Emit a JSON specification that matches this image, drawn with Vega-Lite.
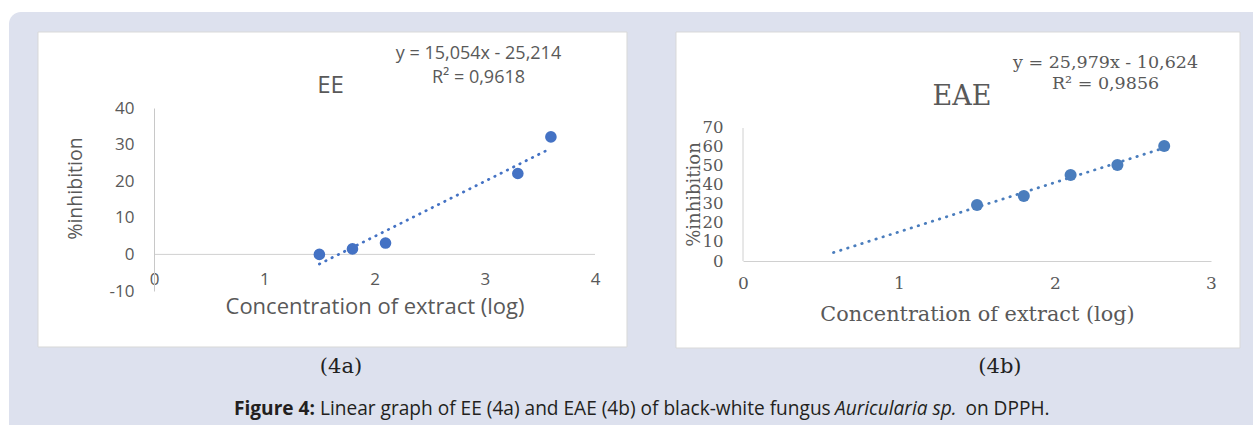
{
  "$schema": "https://vega.github.io/schema/vega-lite/v6.json",
  "background": "white",
  "padding": {"left": 8, "top": 11, "right": 0, "bottom": 0},
  "bounds": "flush",
  "spacing": 148,
  "config": {
    "view": {"stroke": null},
    "axis": {"grid": false, "labelFlush": false, "labelOverlap": false, "ticks": false, "tickSize": 0, "titleFontWeight": "normal", "labelColor": "#595959", "titleColor": "#595959"}
  },
  "datasets": {
    "ee": [{"x": 1.5, "y": 0}, {"x": 1.8, "y": 1.5}, {"x": 2.1, "y": 3.1}, {"x": 3.3, "y": 22.1}, {"x": 3.6, "y": 32.1}],
    "ee_trend": [{"x": 1.5, "y": -2.633}, {"x": 3.6, "y": 28.98}],
    "eae": [{"x": 1.5, "y": 29.5}, {"x": 1.8, "y": 34.2}, {"x": 2.1, "y": 45.3}, {"x": 2.4, "y": 50.5}, {"x": 2.7, "y": 60.5}],
    "eae_trend": [{"x": 0.58, "y": 4.44}, {"x": 2.7, "y": 59.52}]
  },
  "hconcat": [
    {
      "width": 441,
      "height": 183,
      "layer": [
        {
          "data": {"values": [{}]},
          "mark": {"type": "rect", "color": "#dde1ee", "cornerRadiusTopLeft": 12},
          "encoding": {
            "x": {"datum": -1.3152, "type": "quantitative"},
            "x2": {"datum": 9.977},
            "y": {"datum": 66.23, "type": "quantitative"},
            "y2": {"datum": -46.89}
          }
        },
        {
          "data": {"values": [{}]},
          "mark": {"type": "rect", "fill": "white", "stroke": "#d9d9d9", "strokeWidth": 1},
          "encoding": {
            "x": {"datum": -1.0522, "type": "quantitative"},
            "x2": {"datum": 4.2902},
            "y": {"datum": 60.765, "type": "quantitative"},
            "y2": {"datum": -25.3}
          }
        },
        {
          "data": {"values": [{}]},
          "mark": {"type": "rule", "color": "#d0d0d0", "strokeWidth": 1},
          "encoding": {
            "x": {"datum": 0, "type": "quantitative"},
            "x2": {"datum": 4},
            "y": {"datum": 0, "type": "quantitative"}
          }
        },
        {
          "data": {"name": "ee_trend"},
          "mark": {"type": "line", "color": "#4472c4", "strokeWidth": 2.75, "strokeDash": [0.5, 6.5], "strokeCap": "round"},
          "encoding": {
            "x": {"field": "x", "type": "quantitative"},
            "y": {"field": "y", "type": "quantitative"}
          }
        },
        {
          "data": {"name": "ee"},
          "mark": {"type": "circle", "color": "#4472c4", "opacity": 1, "size": 135},
          "encoding": {
            "x": {"field": "x", "type": "quantitative",
              "scale": {"domain": [0, 4], "nice": false, "zero": false},
              "axis": {"zindex": 2, "values": [0, 1, 2, 3, 4], "tickCount": 20, "labelExpr": "'' + datum.value", "labelOverlap": false, "domain": false, "labelPadding": 2, "offset": -22,
                "labelFont": "Open Sans", "labelFontSize": 17,
                "title": "Concentration of extract (log)", "titleFont": "Open Sans", "titleFontSize": 22, "titlePadding": 9}},
            "y": {"field": "y", "type": "quantitative",
              "scale": {"domain": [-10, 40], "nice": false, "zero": false},
              "axis": {"zindex": 2, "values": [-10, 0, 10, 20, 30, 40], "tickCount": 20, "labelExpr": "'' + datum.value", "labelOverlap": false, "domain": true, "domainColor": "#c8c8c8", "labelPadding": 20,
                "labelFont": "Open Sans", "labelFontSize": 17, "title": null}}
          }
        },
        {
          "data": {"values": [{}]},
          "mark": {"type": "text", "text": "%inhibition", "angle": 270, "font": "Open Sans", "fontSize": 19.5, "color": "#595959", "align": "center", "baseline": "middle"},
          "encoding": {"x": {"datum": -0.703, "type": "quantitative"}, "y": {"datum": 18.0, "type": "quantitative"}}
        },
        {
          "data": {"values": [{}]},
          "mark": {"type": "text", "text": "EE", "font": "Open Sans", "fontSize": 24, "color": "#595959", "align": "center", "baseline": "middle"},
          "encoding": {"x": {"datum": 1.601, "type": "quantitative"}, "y": {"datum": 46.09, "type": "quantitative"}}
        },
        {
          "data": {"values": [{}]},
          "mark": {"type": "text", "text": "y = 15,054x - 25,214", "font": "Open Sans", "fontSize": 18, "color": "#595959", "align": "center", "baseline": "middle"},
          "encoding": {"x": {"datum": 2.943, "type": "quantitative"}, "y": {"datum": 54.75, "type": "quantitative"}}
        },
        {
          "data": {"values": [{}]},
          "mark": {"type": "text", "text": "R² = 0,9618", "font": "Open Sans", "fontSize": 18, "color": "#595959", "align": "center", "baseline": "middle"},
          "encoding": {"x": {"datum": 2.943, "type": "quantitative"}, "y": {"datum": 48.28, "type": "quantitative"}}
        },
        {
          "data": {"values": [{}]},
          "mark": {"type": "text", "text": "(4a)", "font": "DejaVu Serif", "fontSize": 21, "color": "#222222", "align": "center", "baseline": "middle"},
          "encoding": {"x": {"datum": 1.696, "type": "quantitative"}, "y": {"datum": -30.77, "type": "quantitative"}}
        },
        {
          "data": {"values": [{}]},
          "mark": {"type": "text", "text": "Figure 4:", "font": "Open Sans", "fontWeight": "bold", "fontSize": 19.1, "color": "#231f20", "align": "left", "baseline": "middle"},
          "encoding": {"x": {"datum": 0.7256, "type": "quantitative"}, "y": {"datum": -42.3, "type": "quantitative"}}
        },
        {
          "data": {"values": [{}]},
          "mark": {"type": "text", "text": "Linear graph of EE (4a) and EAE (4b) of black-white fungus", "font": "Open Sans", "fontSize": 19.1, "color": "#231f20", "align": "left", "baseline": "middle"},
          "encoding": {"x": {"datum": 1.5057, "type": "quantitative"}, "y": {"datum": -42.3, "type": "quantitative"}}
        },
        {
          "data": {"values": [{}]},
          "mark": {"type": "text", "text": "Auricularia sp.", "font": "Open Sans", "fontStyle": "italic", "fontSize": 19.1, "color": "#231f20", "align": "left", "baseline": "middle"},
          "encoding": {"x": {"datum": 6.1769, "type": "quantitative"}, "y": {"datum": -42.3, "type": "quantitative"}}
        },
        {
          "data": {"values": [{}]},
          "mark": {"type": "text", "text": "on DPPH.", "font": "Open Sans", "fontSize": 19.1, "color": "#231f20", "align": "left", "baseline": "middle"},
          "encoding": {"x": {"datum": 7.36, "type": "quantitative"}, "y": {"datum": -42.3, "type": "quantitative"}}
        }
      ]
    },
    {
      "width": 468,
      "height": 153,
      "layer": [
        {
          "data": {"values": [{}]},
          "mark": {"type": "rect", "fill": "white", "stroke": "#d9d9d9", "strokeWidth": 1},
          "encoding": {
            "x": {"datum": -0.4295, "type": "quantitative"},
            "x2": {"datum": 3.1859},
            "y": {"datum": 120.53, "type": "quantitative"},
            "y2": {"datum": -45.79}
          }
        },
        {
          "data": {"values": [{}]},
          "mark": {"type": "rule", "color": "#d0d0d0", "strokeWidth": 1},
          "encoding": {
            "x": {"datum": 0, "type": "quantitative"},
            "y": {"datum": 0, "type": "quantitative"},
            "y2": {"datum": 70}
          }
        },
        {
          "data": {"name": "eae_trend"},
          "mark": {"type": "line", "color": "#4a7dbd", "strokeWidth": 2.75, "strokeDash": [0.5, 6.9], "strokeCap": "round"},
          "encoding": {
            "x": {"field": "x", "type": "quantitative"},
            "y": {"field": "y", "type": "quantitative"}
          }
        },
        {
          "data": {"name": "eae"},
          "mark": {"type": "circle", "color": "#4a7dbd", "opacity": 1, "size": 145},
          "encoding": {
            "x": {"field": "x", "type": "quantitative",
              "scale": {"domain": [0, 3], "nice": false, "zero": false},
              "axis": {"zindex": 2, "values": [0, 1, 2, 3], "tickCount": 20, "labelExpr": "'' + datum.value", "labelOverlap": false, "domain": true, "domainColor": "#d0d0d0", "labelPadding": 14,
                "labelFont": "DejaVu Serif", "labelFontSize": 17,
                "title": "Concentration of extract (log)", "titleFont": "DejaVu Serif", "titleFontSize": 20.8, "titlePadding": 13}},
            "y": {"field": "y", "type": "quantitative",
              "scale": {"domain": [0, 80.526], "nice": false, "zero": false},
              "axis": {"zindex": 2, "values": [0, 10, 20, 30, 40, 50, 60, 70], "tickCount": 20, "labelExpr": "'' + datum.value", "labelOverlap": false, "domain": false, "labelPadding": 20,
                "labelFont": "DejaVu Serif", "labelFontSize": 16.5, "title": null}}
          }
        },
        {
          "data": {"values": [{}]},
          "mark": {"type": "text", "text": "%inhibition", "angle": 270, "font": "DejaVu Serif", "fontSize": 18, "color": "#595959", "align": "center", "baseline": "middle"},
          "encoding": {"x": {"datum": -0.3077, "type": "quantitative"}, "y": {"datum": 35.0, "type": "quantitative"}}
        },
        {
          "data": {"values": [{}]},
          "mark": {"type": "text", "text": "EAE", "font": "DejaVu Serif", "fontSize": 27, "color": "#595959", "align": "center", "baseline": "middle"},
          "encoding": {"x": {"datum": 1.404, "type": "quantitative"}, "y": {"datum": 86.3, "type": "quantitative"}}
        },
        {
          "data": {"values": [{}]},
          "mark": {"type": "text", "text": "y = 25,979x - 10,624", "font": "DejaVu Serif", "fontSize": 17.5, "color": "#595959", "align": "center", "baseline": "middle"},
          "encoding": {"x": {"datum": 2.324, "type": "quantitative"}, "y": {"datum": 104.4, "type": "quantitative"}}
        },
        {
          "data": {"values": [{}]},
          "mark": {"type": "text", "text": "R² = 0,9856", "font": "DejaVu Serif", "fontSize": 17.5, "color": "#595959", "align": "center", "baseline": "middle"},
          "encoding": {"x": {"datum": 2.324, "type": "quantitative"}, "y": {"datum": 93.0, "type": "quantitative"}}
        },
        {
          "data": {"values": [{}]},
          "mark": {"type": "text", "text": "(4b)", "font": "DejaVu Serif", "fontSize": 21, "color": "#222222", "align": "center", "baseline": "middle"},
          "encoding": {"x": {"datum": 1.647, "type": "quantitative"}, "y": {"datum": -55.79, "type": "quantitative"}}
        }
      ]
    }
  ]
}
